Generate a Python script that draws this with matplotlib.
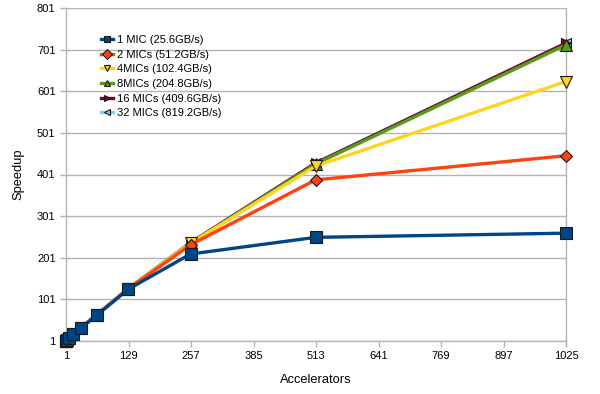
import matplotlib
matplotlib.use("Agg")
import matplotlib.pyplot as plt

plt.rcParams['font.family'] = ['Liberation Sans', 'DejaVu Sans']

accelerators = [1, 2, 4, 8, 16, 32, 64, 128, 256, 512, 1024]
speedup_1mic = [1, 2, 4, 8, 17, 33, 63, 125, 210, 250, 260]
speedup_2mic = [1, 2, 4, 8, 17, 33, 64, 126, 232, 388, 446]
speedup_4mic = [1, 2, 4, 8, 17, 33, 64, 126, 236, 421, 624]
speedup_8mic = [1, 2, 4, 8, 17, 33, 64, 126, 236, 426, 712]
speedup_16mic = [1, 2, 4, 8, 17, 33, 64, 126, 237, 428, 716]
speedup_32mic = [1, 2, 4, 8, 17, 33, 64, 126, 237, 429, 716]

labels = ["1 MIC (25.6GB/s)", "2 MICs (51.2GB/s)", "4MICs (102.4GB/s)",
          "8MICs (204.8GB/s)", "16 MICs (409.6GB/s)", "32 MICs (819.2GB/s)"]
x_ticks = [1, 129, 257, 385, 513, 641, 769, 897, 1025]
y_ticks = [1, 101, 201, 301, 401, 501, 601, 701, 801]

series = [speedup_1mic, speedup_2mic, speedup_4mic,
          speedup_8mic, speedup_16mic, speedup_32mic]
colors = ["#004586", "#ff420e", "#ffd320", "#579d1c", "#7e0021", "#83caff"]
markers = ["s", "D", "v", "^", ">", "<"]
msizes = [8, 6, 8, 8, 7, 7]

fig = plt.figure(figsize=(6.0, 3.94), dpi=100)
ax = fig.add_axes([66 / 600, 1 - 341 / 394, 500 / 600, 333 / 394])

handles = []
for i, (vals, c, m, ms, lab) in enumerate(zip(series, colors, markers, msizes, labels)):
    h, = ax.plot(accelerators, vals, color=c, lw=2.4, marker=m, markersize=ms,
                 markerfacecolor=c, markeredgecolor="#1a1a1a", markeredgewidth=0.8,
                 label=lab, zorder=10 - i, clip_on=False)
    handles.append(h)

ax.set_xlim(1, 1025)
ax.set_ylim(1, 801)
ax.set_xticks(x_ticks)
ax.set_yticks(y_ticks)
ax.tick_params(axis='both', labelsize=8, colors="#b3b3b3", labelcolor="#000000",
               length=4, width=1)
ax.yaxis.grid(True, color="#b3b3b3", lw=1)
ax.set_axisbelow(True)
for s in ["left", "bottom", "right"]:
    ax.spines[s].set_color("#b3b3b3")
    ax.spines[s].set_linewidth(1)
ax.spines["top"].set_visible(False)

ax.set_xlabel("Accelerators", fontsize=9.3, labelpad=9)
ax.set_ylabel("Speedup", fontsize=9.3, labelpad=9)

leg = fig.legend(handles=handles, loc="upper left",
                 bbox_to_anchor=(101 / 600, 1 - 35 / 394), frameon=False,
                 fontsize=8, handlelength=1.1, handletextpad=0.3,
                 labelspacing=0.42, borderpad=0, borderaxespad=0)
for lh in leg.legend_handles:
    lh.set_markersize(5)

fig.savefig("out.png", dpi=100)
